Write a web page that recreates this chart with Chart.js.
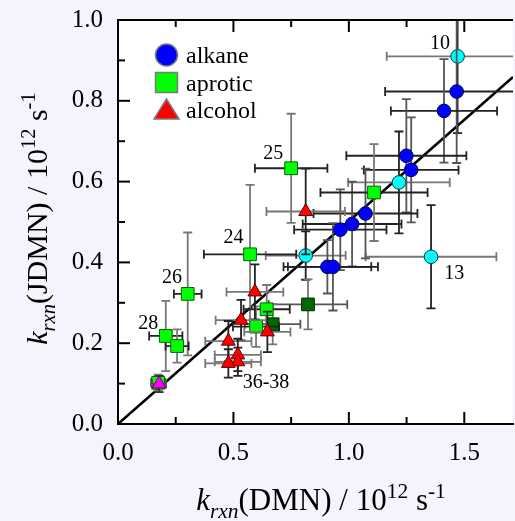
<!DOCTYPE html>
<html><head><meta charset="utf-8">
<script src="https://cdn.jsdelivr.net/npm/chart.js@4.4.1/dist/chart.umd.min.js"></script>
<style>html,body{margin:0;padding:0;background:#f4f4fc;overflow:hidden;width:515px;height:521px}canvas{display:block}</style>
</head><body><canvas id="c" width="523" height="521"></canvas>
<script>
// ---- axis ticks ----
const xTicks = [0, 0.5, 1.0, 1.5];
const xMinor = [0.25, 0.75, 1.25];
const yTicks = [0, 0.2, 0.4, 0.6, 0.8, 1.0];
const yMinor = [0.1, 0.3, 0.5, 0.7, 0.9];
const xRange = [0, 1.711];
const yRange = [0, 1.0];

// ---- alkane (blue circles) ----
const alkaneX    = [1.467, 1.412, 1.249, 1.270, 1.072, 1.014, 0.963, 0.907, 0.931];
const alkaneY    = [0.823, 0.775, 0.664, 0.629, 0.521, 0.495, 0.481, 0.389, 0.389];
const alkaneXErr = [0.31, 0.23, 0.26, 0.205, 0.225, 0.214, 0.20, 0.19, 0.195];
const alkaneYErr = [0.177, 0.128, 0.14, 0.13, 0.111, 0.105, 0.10, 0.066, 0.108];

// ---- alkane, highlighted (cyan circles) ----
const alkane2X    = [1.471, 1.217, 0.813, 1.356];
const alkane2Y    = [0.910, 0.598, 0.417, 0.414];
const alkane2XErr = [0.307, 0.22, 0.173, 0.283];
const alkane2YErr = [0.19, 0.126, 0.06, 0.128];

// ---- aprotic (green squares) ----
const aproticX    = [1.109, 0.750, 0.572, 0.302, 0.207, 0.256, 0.644, 0.598, 0.174];
const aproticY    = [0.573, 0.633, 0.420, 0.322, 0.218, 0.193, 0.284, 0.241, 0.102];
const aproticXErr = [0.232, 0.157, 0.20, 0.06, 0.072, 0.05, 0.10, 0.10, 0.03];
const aproticYErr = [0.12, 0.135, 0.172, 0.152, 0.087, 0.041, 0.06, 0.05, 0.02];

// ---- aprotic, highlighted (dark green squares) ----
const aprotic2X    = [0.823, 0.670];
const aprotic2Y    = [0.296, 0.247];
const aprotic2XErr = [0.17, 0.12];
const aprotic2YErr = [0.062, 0.05];

// ---- alcohol (red triangles) ----
const alcoholX    = [0.813, 0.593, 0.533, 0.478, 0.519, 0.519, 0.478, 0.647];
const alcoholY    = [0.526, 0.327, 0.257, 0.205, 0.171, 0.154, 0.150, 0.228];
const alcoholXErr = [0.17, 0.123, 0.11, 0.10, 0.10, 0.10, 0.10, 0.10];
const alcoholYErr = [0.106, 0.068, 0.05, 0.05, 0.04, 0.035, 0.035, 0.05];

// ---- alcohol, highlighted (magenta triangle) ----
const alcohol2X    = [0.178];
const alcohol2Y    = [0.099];
const alcohol2XErr = [0.03];
const alcohol2YErr = [0.02];

// ---- fit line ----
const fitX = [0, 1.711];
const fitY = [0, 0.859];

// ---- point annotations ----
const noteText = ['10', '13', '25', '24', '26', '28', '36-38'];
const noteX    = [1.395, 1.457, 0.672, 0.500, 0.234, 0.131, 0.641];
const noteY    = [0.940, 0.373, 0.670, 0.462, 0.361, 0.249, 0.101];

const legendLabels = ['alkane', 'aprotic', 'alcohol'];

const SERIF = '"Liberation Serif", "Times New Roman", serif';
const pts = (xs, ys) => xs.map((v, i) => ({x: v, y: ys[i]}));

const errorBars = {
  id: 'errorBars',
  beforeDatasetDraw(chart, args) {
    const ds = chart.data.datasets[args.index];
    if (!ds.errX) return;
    const {ctx, chartArea: a, scales: {x, y}} = chart;
    ctx.save();
    ctx.beginPath(); ctx.rect(a.left, a.top, a.right - a.left, a.bottom - a.top); ctx.clip();
    ctx.lineWidth = 1.8;
    const cap = 4.5;
    ds.data.forEach((p, i) => {
      const px = x.getPixelForValue(p.x), py = y.getPixelForValue(p.y);
      const x0 = x.getPixelForValue(p.x - ds.errX[i]), x1 = x.getPixelForValue(p.x + ds.errX[i]);
      const y0 = y.getPixelForValue(p.y - ds.errY[i]), y1 = y.getPixelForValue(p.y + ds.errY[i]);
      ctx.strokeStyle = ds.errColX;
      ctx.beginPath();
      ctx.moveTo(x0, py); ctx.lineTo(x1, py);
      ctx.moveTo(x0, py - cap); ctx.lineTo(x0, py + cap);
      ctx.moveTo(x1, py - cap); ctx.lineTo(x1, py + cap);
      ctx.stroke();
      ctx.strokeStyle = ds.errColY;
      ctx.beginPath();
      ctx.moveTo(px, y0); ctx.lineTo(px, y1);
      ctx.moveTo(px - cap, y0); ctx.lineTo(px + cap, y0);
      ctx.moveTo(px - cap, y1); ctx.lineTo(px + cap, y1);
      ctx.stroke();
    });
    ctx.restore();
  }
};

function drawRich(ctx, parts, cx, cy, rot) {
  ctx.save();
  ctx.translate(cx, cy);
  ctx.rotate(rot);
  let total = 0;
  parts.forEach(p => { ctx.font = p.f; p.w = ctx.measureText(p.t).width; total += p.w; });
  let xx = -total / 2;
  ctx.fillStyle = '#000';
  ctx.textBaseline = 'alphabetic';
  ctx.textAlign = 'left';
  parts.forEach(p => { ctx.font = p.f; ctx.fillText(p.t, xx, p.dy || 0); xx += p.w; });
  ctx.restore();
}

const decor = {
  id: 'decor',
  afterDraw(chart) {
    const {ctx, chartArea: a, scales: {x, y}} = chart;
    ctx.save();
    // top frame line
    ctx.strokeStyle = '#000'; ctx.lineWidth = 2;
    ctx.beginPath(); ctx.moveTo(a.left - 1, a.top); ctx.lineTo(a.right, a.top); ctx.stroke();
    // inward ticks
    ctx.lineWidth = 2;
    const tk = (vals, len, fn) => vals.forEach(v => { ctx.beginPath(); fn(v, len); ctx.stroke(); });
    const yl = (v, len) => { const p = y.getPixelForValue(v); ctx.moveTo(a.left, p); ctx.lineTo(a.left + len, p); };
    const xb = (v, len) => { const p = x.getPixelForValue(v); ctx.moveTo(p, a.bottom); ctx.lineTo(p, a.bottom - len); };
    const xt = (v, len) => { const p = x.getPixelForValue(v); ctx.moveTo(p, a.top); ctx.lineTo(p, a.top + len); };
    tk(yTicks, 12, yl); tk(yMinor, 7, yl);
    tk(xTicks, 12, xb); tk(xMinor, 7, xb);
    tk(xTicks, 12, xt); tk(xMinor, 7, xt);

    // annotations
    ctx.fillStyle = '#000';
    ctx.font = '20px ' + SERIF;
    ctx.textAlign = 'center'; ctx.textBaseline = 'middle';
    noteText.forEach((t, i) => ctx.fillText(t, x.getPixelForValue(noteX[i]), y.getPixelForValue(noteY[i])));

    // legend
    const lx = 166.5, rows = [55, 82.5, 110];
    ctx.lineWidth = 1.5; ctx.strokeStyle = '#7a7a7a';
    ctx.fillStyle = '#0000ff';
    ctx.beginPath(); ctx.arc(lx, rows[0], 11, 0, Math.PI * 2); ctx.fill(); ctx.stroke();
    ctx.fillStyle = '#00ff00';
    ctx.beginPath(); ctx.rect(lx - 11, rows[1] - 10, 22, 20); ctx.fill(); ctx.stroke();
    ctx.fillStyle = '#ff0000';
    ctx.beginPath(); ctx.moveTo(lx, rows[2] - 11); ctx.lineTo(lx + 12.5, rows[2] + 9); ctx.lineTo(lx - 12.5, rows[2] + 9); ctx.closePath(); ctx.fill(); ctx.stroke();
    ctx.fillStyle = '#000';
    ctx.font = '24px ' + SERIF;
    ctx.textAlign = 'left'; ctx.textBaseline = 'alphabetic';
    legendLabels.forEach((t, i) => ctx.fillText(t, 186, rows[i] + 8));
    ctx.restore();

    // axis titles
    const mk = (mid, big, small) => [
      {t: 'k', f: 'italic ' + big + 'px ' + SERIF},
      {t: 'rxn', f: 'italic ' + small + 'px ' + SERIF, dy: 8},
      {t: '(' + mid + ') / 10', f: big + 'px ' + SERIF},
      {t: '12', f: small + 'px ' + SERIF, dy: -12},
      {t: ' s', f: big + 'px ' + SERIF},
      {t: '-1', f: small + 'px ' + SERIF, dy: -12}
    ];
    drawRich(ctx, mk('DMN', 31, 21.5), 321, 510, 0);
    drawRich(ctx, mk('JDMN', 30, 20.5), 47, 218.5, -Math.PI / 2);
  }
};

Chart.defaults.font.family = SERIF;
Chart.defaults.color = '#000';

new Chart(document.getElementById('c'), {
  type: 'scatter',
  data: {
    datasets: [
      {label: 'alcohol2', data: pts(alcohol2X, alcohol2Y), errX: alcohol2XErr, errY: alcohol2YErr,
       errColX: '#555', errColY: '#333',
       pointStyle: 'triangle', pointRadius: 8, backgroundColor: '#ff00ff', borderColor: '#600060', borderWidth: 1},
      {label: 'alcohol', data: pts(alcoholX, alcoholY), errX: alcoholXErr, errY: alcoholYErr,
       errColX: '#777', errColY: '#222',
       pointStyle: 'triangle', pointRadius: 8, backgroundColor: '#ff0000', borderColor: '#600000', borderWidth: 1},
      {label: 'aprotic', data: pts(aproticX, aproticY), errX: aproticXErr, errY: aproticYErr,
       errColX: '#222', errColY: '#777',
       pointStyle: 'rect', pointRadius: 9, backgroundColor: '#00ff00', borderColor: '#006600', borderWidth: 1},
      {label: 'aprotic2', data: pts(aprotic2X, aprotic2Y), errX: aprotic2XErr, errY: aprotic2YErr,
       errColX: '#555', errColY: '#777',
       pointStyle: 'rect', pointRadius: 9, backgroundColor: '#006a00', borderColor: '#003000', borderWidth: 1},
      {label: 'alkane', data: pts(alkaneX, alkaneY), errX: alkaneXErr, errY: alkaneYErr,
       errColX: '#222', errColY: '#555',
       pointStyle: 'circle', pointRadius: 6.8, backgroundColor: '#0000ff', borderColor: '#000050', borderWidth: 1},
      {label: 'alkane2', data: pts(alkane2X, alkane2Y), errX: alkane2XErr, errY: alkane2YErr,
       errColX: '#777', errColY: '#222',
       pointStyle: 'circle', pointRadius: 6.8, backgroundColor: '#00ffff', borderColor: '#004040', borderWidth: 1},
      {label: 'fit', type: 'line', data: pts(fitX, fitY), borderColor: '#000', borderWidth: 2.5,
       pointRadius: 0, fill: false, tension: 0}
    ]
  },
  options: {
    responsive: false,
    animation: false,
    devicePixelRatio: 1,
    events: [],
    layout: {padding: {top: 20, right: 0, left: 0, bottom: 0}},
    plugins: {legend: {display: false}, tooltip: {enabled: false}},
    scales: {
      x: {
        type: 'linear', min: xRange[0], max: xRange[1],
        afterBuildTicks: s => { s.ticks = xTicks.map(v => ({value: v})); },
        afterFit: s => { s.height = 97; s.paddingLeft = 0; s.paddingRight = 0; },
        grid: {display: false, drawTicks: false},
        border: {display: true, color: '#000', width: 2},
        ticks: {padding: 14, color: '#000', font: {family: SERIF, size: 25}, callback: v => v.toFixed(1), maxRotation: 0}
      },
      y: {
        type: 'linear', min: yRange[0], max: yRange[1],
        afterBuildTicks: s => { s.ticks = yTicks.map(v => ({value: v})); },
        afterFit: s => { s.width = 118; s.paddingTop = 0; s.paddingBottom = 0; },
        grid: {display: false, drawTicks: false},
        border: {display: true, color: '#000', width: 2},
        ticks: {padding: 15, color: '#000', font: {family: SERIF, size: 25}, callback: v => v.toFixed(1)}
      }
    }
  },
  plugins: [errorBars, decor, {
    id: 'bg',
    beforeDraw(chart) {
      const {ctx, chartArea: a} = chart;
      ctx.save(); ctx.fillStyle = '#fff';
      ctx.fillRect(a.left, a.top, a.right - a.left, a.bottom - a.top);
      ctx.restore();
    }
  }]
});
</script>
</body></html>
